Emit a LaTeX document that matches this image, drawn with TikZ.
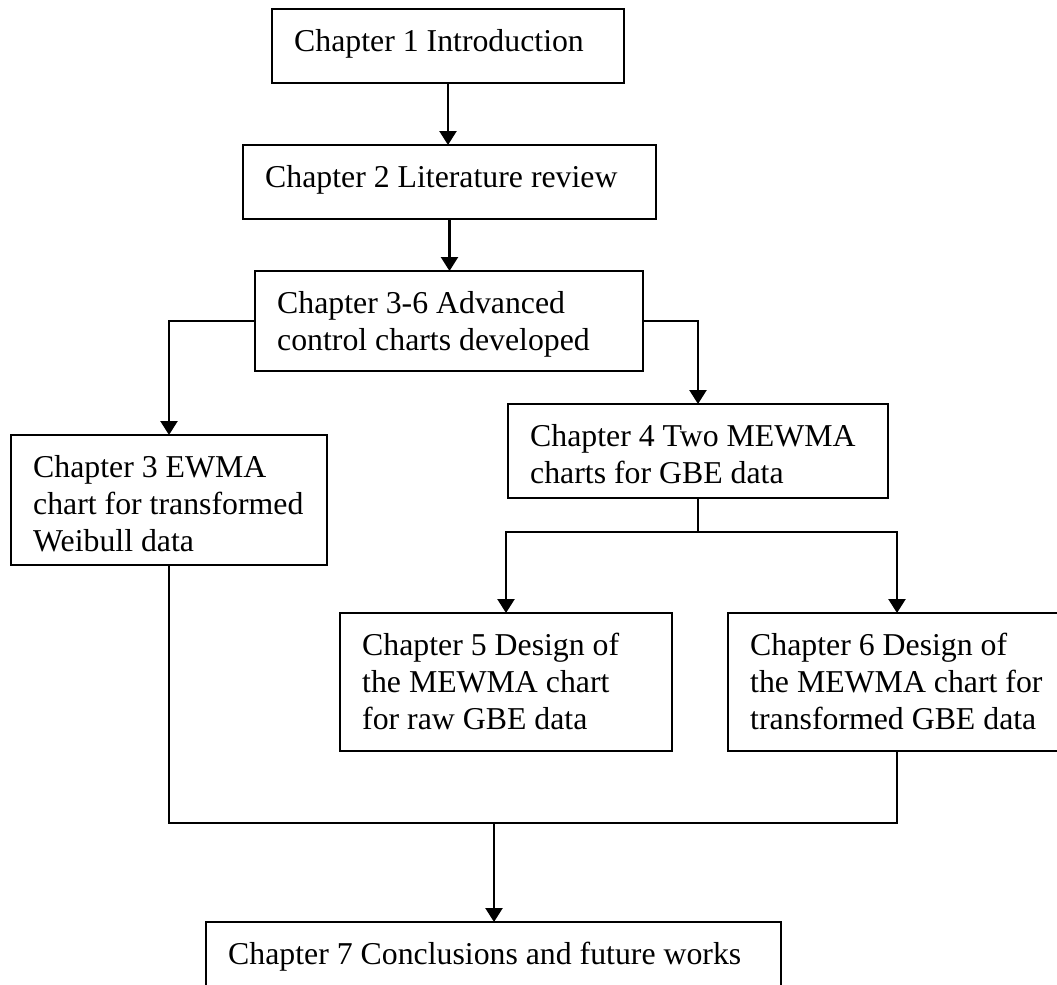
\documentclass[tikz,border=0pt]{standalone}
\usepackage{fontspec}
\setmainfont{Liberation Serif}
\usetikzlibrary{arrows.meta}

\tikzset{box/.style={draw,anchor=north west,inner sep=0pt,outer sep=0pt},
  txt/.style={anchor=north west,inner sep=0pt,align=left,xshift=10.5pt,yshift=-9.5pt,
    font=\fontsize{15.9}{18.5}\selectfont}}

\begin{document}
\begin{tikzpicture}[x=0.5pt,y=-0.5pt,line width=1.2pt,>={Triangle[width=8.5pt,length=7pt]}]
    \useasboundingbox (0,0) rectangle (1057,985);
    %chapter boxes
    \node (C1) at (272,9) [box,minimum width=176pt,minimum height=37pt]{};
    \node (C2) at (243,145) [box,minimum width=206.5pt,minimum height=37pt]{};
    \node (C36) at (255,271) [box,minimum width=194pt,minimum height=50pt]{};
    \node (C3) at (11,435) [box,minimum width=158pt,minimum height=65pt]{};
    \node (C4) at (508,404) [box,minimum width=190pt,minimum height=47pt]{};
    \node (C5) at (340,613) [box,minimum width=166pt,minimum height=69pt]{};
    \node (C6) at (728,613) [box,minimum width=169pt,minimum height=69pt]{};
    \node (C7) at (206,922) [box,minimum width=287.5pt,minimum height=45pt]{};

    %texts
    \node (T1) at (C1.north west) [txt]{Chapter 1 Introduction};
    \node (T2) at (C2.north west) [txt]{Chapter 2 Literature review};
    \node (T36) at (C36.north west) [txt]{Chapter 3-6 Advanced\\control charts developed};
    \node (T3) at (C3.north west) [txt]{Chapter 3 EWMA\\chart for transformed\\Weibull data};
    \node (T4) at (C4.north west) [txt]{Chapter 4 Two MEWMA\\charts for GBE data};
    \node (T5) at (C5.north west) [txt]{Chapter 5 Design of\\the MEWMA chart\\for raw GBE data};
    \node (T6) at (C6.north west) [txt]{Chapter 6 Design of\\the MEWMA chart for\\transformed GBE data};
    \node (T7) at (C7.north west) [txt]{Chapter 7 Conclusions and future works};

    %down the main line
    \draw [->] (C1.south) to (C1.south |- C2.north);
    \draw [->] (C2.south) to (C2.south |- C36.north);
    \draw [->] (C36.west) -| (C3.north);
    \draw [->] (C36.east) -| (C4.north);

    %split below chapter 4
    \draw (C4.south) -- ++(0,34) coordinate (J1);
    \draw [->] (J1) -| (C5.north);
    \draw [->] (J1) -| (C6.north);

    %join into chapter 7
    \coordinate (J2) at (494,823);
    \draw (C3.south) |- (J2) -| (C6.south);
    \draw [->] (J2) to (J2 |- C7.north);
\end{tikzpicture}
\end{document}
